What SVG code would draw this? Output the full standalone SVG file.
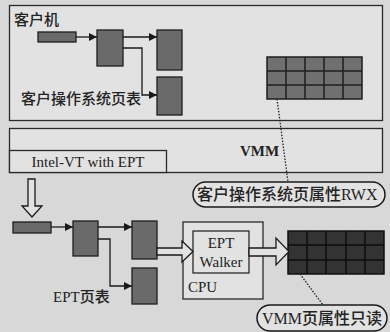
<svg xmlns="http://www.w3.org/2000/svg" width="390" height="332" viewBox="0 0 390 332">
  <defs>
    <marker id="tri" viewBox="0 0 10 10" refX="10" refY="5" markerWidth="8" markerHeight="8" markerUnits="userSpaceOnUse" orient="auto">
      <path d="M0,0 L10,5 L0,10 z" fill="#1a1a1a"/>
    </marker>
  </defs>
  <style>
    .frame { fill: #e2e2e2; stroke: #2a2a2a; stroke-width: 1.3; }
    .blk { fill: #6a6a6a; stroke: #1e1e1e; stroke-width: 1.3; }
    .grid { fill: #707070; stroke: #1e1e1e; stroke-width: 1.5; }
    .grid2 { fill: #333333; stroke: #111111; stroke-width: 1.5; }
    .gl { stroke: #1e1e1e; stroke-width: 1.5; }
    .gl2 { stroke: #0c0c0c; stroke-width: 1.5; }
    .wire { fill: none; stroke: #1a1a1a; stroke-width: 1.3; }
    .hollow { fill: #e2e2e2; stroke: #1a1a1a; stroke-width: 1.3; }
    .dots { fill: none; stroke: #222; stroke-width: 1.3; stroke-dasharray: 1.5 1.5; }
    .cjk { font-family: "Noto Sans CJK SC", sans-serif; font-size: 15px; font-weight: 500; fill: #222; }
    .big { font-size: 16px; }
    .ser { font-family: "Liberation Serif", serif; font-size: 15px; fill: #222; }
    .lat { font-family: "Liberation Serif", serif; font-weight: normal; }
    .pill { fill: #e2e2e2; stroke: #1a1a1a; stroke-width: 1.5; }
  </style>

  <rect width="390" height="332" fill="#d8d8d8"/>

  <!-- guest machine -->
  <g id="guest">
    <rect class="frame" x="9.5" y="5.5" width="373" height="115"/>
    <text class="cjk" x="14" y="25">客户机</text>
    <rect class="blk" x="38" y="32" width="38" height="10"/>
    <rect class="blk" x="97" y="30" width="26" height="36"/>
    <rect class="blk" x="157" y="30" width="25" height="40"/>
    <rect class="blk" x="157" y="77" width="25" height="38"/>
    <text class="cjk" x="21" y="104">客户操作系统页表</text>
  </g>

  <!-- guest page attribute table -->
  <g id="guest-grid">
    <rect class="grid" x="267" y="57" width="95" height="42"/>
    <path class="gl" d="M286,57V99M305,57V99M324,57V99M343,57V99M267,71H362M267,85H362"/>
  </g>

  <!-- VMM layer -->
  <g id="vmm">
    <rect class="frame" x="9.5" y="128.5" width="373" height="44"/>
    <text class="ser" x="240" y="156" font-weight="bold" fill="#333">VMM</text>
  </g>
  <g id="intel-vt">
    <rect class="frame" x="9.5" y="150.5" width="157" height="22"/>
    <text class="ser" x="88" y="167" text-anchor="middle">Intel-VT with EPT</text>
  </g>

  <g id="label-rwx">
    <rect class="pill" x="193" y="182" width="192" height="25" rx="12.5"/>
    <text class="cjk big" x="197" y="200">客户操作系统页属性<tspan class="lat">RWX</tspan></text>
  </g>

  <!-- EPT page tables -->
  <g id="ept">
    <rect class="blk" x="13" y="222" width="38" height="11"/>
    <rect class="blk" x="73" y="221" width="25" height="35"/>
    <rect class="blk" x="132" y="221" width="25" height="38"/>
    <rect class="blk" x="132" y="268" width="25" height="36"/>
    <text class="cjk" x="53" y="302"><tspan class="lat">EPT</tspan>页表</text>
  </g>

  <!-- CPU -->
  <g id="cpu">
    <rect class="frame" x="183" y="222" width="80" height="77"/>
    <text class="ser big" x="188" y="292">CPU</text>
  </g>
  <g id="ept-walker">
    <rect class="frame" x="193" y="231" width="56" height="42"/>
    <text class="ser big" x="221" y="248" text-anchor="middle">EPT</text>
    <text class="ser big" x="221" y="267" text-anchor="middle">Walker</text>
  </g>

  <!-- VMM read-only page attribute table -->
  <g id="vmm-grid">
    <rect class="grid2" x="288" y="231" width="96" height="43"/>
    <path class="gl2" d="M307,231V274M326,231V274M346,231V274M365,231V274M288,245H384M288,260H384"/>
  </g>

  <g id="label-ro">
    <rect class="pill" x="257" y="305" width="130" height="26" rx="13"/>
    <text class="cjk big" x="262" y="324"><tspan class="lat">VMM</tspan>页属性只读</text>
  </g>

  <!-- connectors -->
  <g id="connectors">
    <path class="wire" d="M76,37H97" marker-end="url(#tri)"/>
    <path class="wire" d="M123,37H157" marker-end="url(#tri)"/>
    <path class="wire" d="M123,48H142V95H157" marker-end="url(#tri)"/>

    <path class="wire" d="M51,227H73" marker-end="url(#tri)"/>
    <path class="wire" d="M98,227H132" marker-end="url(#tri)"/>
    <path class="wire" d="M98,239H110V286H132" marker-end="url(#tri)"/>

    <!-- hollow block arrows -->
    <path class="hollow" d="M28,179H35V206H42L32,217L22,206H28Z"/>
    <path class="hollow" d="M157,248H182V241L193,251.5L182,262V255H157Z"/>
    <path class="hollow" d="M249,248H276V238L289,251.5L276,265V256H249Z"/>

    <!-- dotted leaders to labels -->
    <path class="dots" d="M277,99L288,182"/>
    <path class="dots" d="M300,274L323,305"/>
  </g>
</svg>
